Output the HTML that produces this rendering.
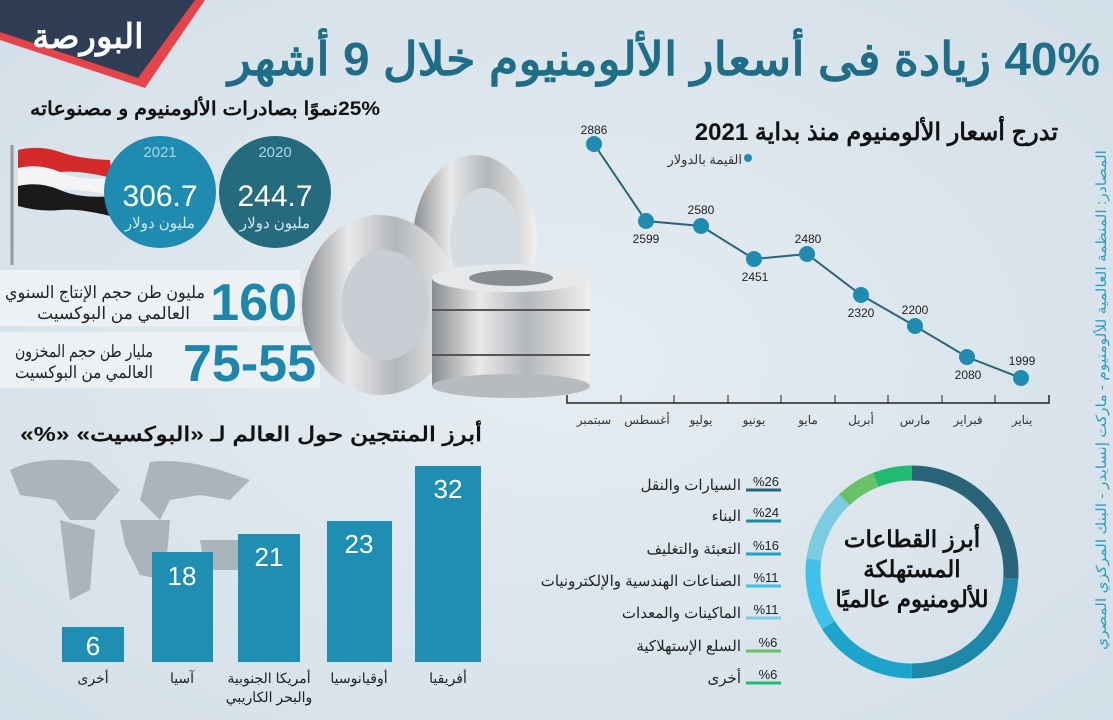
<!DOCTYPE html>
<html><head><meta charset="utf-8"><style>
body{margin:0;width:1113px;height:720px;overflow:hidden;background:#d9e4ec;font-family:"Liberation Sans","Noto Sans CJK SC",sans-serif;}
svg{display:block}
</style></head><body>
<svg width="1113" height="720" viewBox="0 0 1113 720" xmlns="http://www.w3.org/2000/svg" font-family="Liberation Sans, Noto Sans CJK SC, sans-serif">
<defs>
<radialGradient id="bg" cx="0.5" cy="0.5" r="0.7"><stop offset="0" stop-color="#e6edf2"/><stop offset="1" stop-color="#d3dfe8"/></radialGradient>
<linearGradient id="met" x1="0" x2="1"><stop offset="0" stop-color="#8a8d90"/><stop offset="0.3" stop-color="#e8e9ea"/><stop offset="0.6" stop-color="#b4b7ba"/><stop offset="1" stop-color="#f0f0f0"/></linearGradient>
</defs>
<rect width="1113" height="720" fill="url(#bg)"/>
<!-- logo banner -->
<polygon points="0,0 205,0 145,88 0,40" fill="#e5454a"/>
<polygon points="0,0 195,0 138,78 0,32" fill="#2f3e55"/>
<text x="88" y="48" font-size="34" font-weight="bold" fill="#fff" text-anchor="middle">البورصة</text>
<!-- title -->
<text x="1100" y="75" font-size="46" font-weight="bold" fill="#1f6d86" text-anchor="start" direction="rtl" textLength="872" lengthAdjust="spacingAndGlyphs">40% زيادة فى أسعار الألومنيوم خلال 9 أشهر</text>
<text x="380" y="115" font-size="19" font-weight="bold" fill="#111" text-anchor="start" direction="rtl" textLength="350" lengthAdjust="spacingAndGlyphs">25%نموًا بصادرات الألومنيوم و مصنوعاته</text>
<!-- flag -->
<line x1="12" y1="145" x2="12" y2="265" stroke="#999" stroke-width="3"/>
<path d="M18,150 Q40,145 60,152 T110,160 L112,178 Q80,170 60,172 T18,168Z" fill="#d42a2a"/>
<path d="M18,168 Q40,163 60,172 T112,178 L114,196 Q80,188 60,190 T18,186Z" fill="#f4f4f4"/>
<path d="M18,186 Q40,181 60,190 T114,196 L118,218 Q80,208 60,210 T18,206Z" fill="#1a1a1a"/>
<!-- circles -->
<circle cx="160" cy="192" r="56" fill="#1f8bb0"/>
<circle cx="275" cy="192" r="56" fill="#266a7e"/>
<text x="160" y="157" font-size="15" fill="#a9d6e6" text-anchor="middle">2021</text>
<text x="275" y="157" font-size="15" fill="#a9d6e6" text-anchor="middle">2020</text>
<text x="160" y="206" font-size="30" fill="#fff" text-anchor="middle">306.7</text>
<text x="275" y="206" font-size="30" fill="#fff" text-anchor="middle">244.7</text>
<text x="160" y="228" font-size="15" fill="#cfe8f1" text-anchor="middle">مليون دولار</text>
<text x="275" y="228" font-size="15" fill="#cfe8f1" text-anchor="middle">مليون دولار</text>
<!-- stat boxes -->
<rect x="0" y="270" width="300" height="56" fill="#edf1f4"/>
<rect x="0" y="332" width="320" height="56" fill="#edf1f4"/>
<text x="297" y="320" font-size="52" font-weight="bold" fill="#1f86ab" text-anchor="end">160</text>
<text x="205" y="298" font-size="17" fill="#222" text-anchor="start" direction="rtl" textLength="200" lengthAdjust="spacingAndGlyphs">مليون طن حجم الإنتاج السنوي</text>
<text x="190" y="319" font-size="17" fill="#222" text-anchor="start" direction="rtl">العالمي من البوكسيت</text>
<text x="316" y="381" font-size="52" font-weight="bold" fill="#1f86ab" text-anchor="end">75-55</text>
<text x="153" y="357" font-size="17" fill="#222" text-anchor="start" direction="rtl" textLength="138" lengthAdjust="spacingAndGlyphs">مليار طن حجم المخزون</text>
<text x="153" y="378" font-size="17" fill="#222" text-anchor="start" direction="rtl" textLength="138" lengthAdjust="spacingAndGlyphs">العالمي من البوكسيت</text>
<!-- coils -->
<ellipse cx="475" cy="240" rx="62" ry="85" fill="url(#met)"/>
<ellipse cx="485" cy="240" rx="35" ry="52" fill="#d5dde3"/>
<ellipse cx="380" cy="305" rx="78" ry="90" fill="url(#met)"/>
<ellipse cx="385" cy="305" rx="44" ry="55" fill="#c8ced3"/>
<rect x="432" y="278" width="158" height="108" fill="url(#met)"/>
<ellipse cx="511" cy="386" rx="79" ry="12" fill="#b8bbbe"/>
<ellipse cx="511" cy="278" rx="79" ry="14" fill="#e6e8ea"/>
<ellipse cx="511" cy="278" rx="42" ry="8" fill="#8a8e92"/>
<line x1="432" y1="310" x2="590" y2="310" stroke="#555" stroke-width="2"/>
<line x1="432" y1="355" x2="590" y2="355" stroke="#555" stroke-width="2"/>
<!-- line chart -->
<text x="1058" y="140" font-size="24" font-weight="bold" fill="#111" text-anchor="start" direction="rtl">تدرج أسعار الألومنيوم منذ بداية 2021</text>
<circle cx="748" cy="158" r="4" fill="#1f8bb0"/>
<text x="742" y="164" font-size="13" fill="#333" text-anchor="start" direction="rtl">القيمة بالدولار</text>
<polyline points="567,395 567,403 1049,403 1049,395" fill="none" stroke="#222" stroke-width="1.5"/>
<g stroke="#222" stroke-width="1">
<line x1="621" y1="395" x2="621" y2="403"/><line x1="674" y1="395" x2="674" y2="403"/><line x1="728" y1="395" x2="728" y2="403"/><line x1="781" y1="395" x2="781" y2="403"/><line x1="835" y1="395" x2="835" y2="403"/><line x1="888" y1="395" x2="888" y2="403"/><line x1="942" y1="395" x2="942" y2="403"/><line x1="995" y1="395" x2="995" y2="403"/>
</g>
<g font-size="12" fill="#333" text-anchor="middle">
<text x="594" y="424">سبتمبر</text><text x="647" y="424">أغسطس</text><text x="701" y="424">يوليو</text><text x="754" y="424">يونيو</text><text x="808" y="424">مايو</text><text x="861" y="424">أبريل</text><text x="915" y="424">مارس</text><text x="968" y="424">فبراير</text><text x="1022" y="424">يناير</text>
</g>
<polyline points="594,144 646,221 701,226 754,259 807,254 861,295 915,326 967,357 1021,378" fill="none" stroke="#2a6478" stroke-width="2"/>
<g fill="#1f8bb0"><circle cx="594" cy="144" r="8"/><circle cx="646" cy="221" r="8"/><circle cx="701" cy="226" r="8"/><circle cx="754" cy="259" r="8"/><circle cx="807" cy="254" r="8"/><circle cx="861" cy="295" r="8"/><circle cx="915" cy="326" r="8"/><circle cx="967" cy="357" r="8"/><circle cx="1021" cy="378" r="8"/></g>
<g font-size="12" fill="#222" text-anchor="middle">
<text x="594" y="134">2886</text><text x="646" y="243">2599</text><text x="701" y="214">2580</text><text x="755" y="281">2451</text><text x="808" y="243">2480</text><text x="861" y="317">2320</text><text x="915" y="314">2200</text><text x="968" y="379">2080</text><text x="1022" y="365">1999</text>
</g>
<!-- source vertical -->
<text transform="translate(1106,150) rotate(-90)" font-size="14" fill="#2d9cc0" direction="rtl" text-anchor="start" textLength="500" lengthAdjust="spacingAndGlyphs">المصادر:  المنظمة العالمية للألومنيوم - ماركت إنسايدر - البنك المركزي المصري</text>
<!-- bar chart -->
<text x="482" y="441" font-size="20" font-weight="bold" fill="#111" text-anchor="start" direction="rtl" textLength="462" lengthAdjust="spacingAndGlyphs">أبرز المنتجين حول العالم لـ «البوكسيت» «%»</text>
<path d="M10,470 Q40,455 90,462 L120,490 L95,520 L70,520 L55,500 L20,495Z M150,462 Q180,458 220,470 L250,480 L230,500 L200,495 L170,500 L160,520 L140,500Z M60,520 L95,530 L90,590 L70,600 L65,560Z M120,520 L170,520 L165,580 L140,575 L125,545Z M200,540 L245,540 L245,570 L205,570Z" fill="#a9b4bb"/>
<g fill="#1e8fb3">
<rect x="62" y="627" width="62" height="35"/><rect x="152" y="552" width="61" height="110"/><rect x="238" y="534" width="62" height="128"/><rect x="327" y="521" width="65" height="141"/><rect x="415" y="466" width="66" height="196"/>
</g>
<g font-size="26" fill="#fff" text-anchor="middle">
<text x="93" y="655">6</text><text x="182" y="585">18</text><text x="269" y="566">21</text><text x="359" y="553">23</text><text x="448" y="498">32</text>
</g>
<g font-size="14" fill="#222" text-anchor="middle">
<text x="93" y="683">أخرى</text><text x="182" y="683">آسيا</text><text x="269" y="683">أمريكا الجنوبية</text><text x="269" y="702">والبحر الكاريبي</text><text x="359" y="683">أوقيانوسيا</text><text x="448" y="683">أفريقيا</text>
</g>
<!-- donut -->
<g fill="none" stroke-width="15" transform="translate(912,572) rotate(-90)">
<circle r="99" stroke="#2a6478" stroke-dasharray="161.7 622" stroke-dashoffset="0"/>
<circle r="99" stroke="#1d88aa" stroke-dasharray="149.3 622" stroke-dashoffset="-161.7"/>
<circle r="99" stroke="#1ea3cb" stroke-dasharray="99.5 622" stroke-dashoffset="-311"/>
<circle r="99" stroke="#40c1ec" stroke-dasharray="68.4 622" stroke-dashoffset="-410.5"/>
<circle r="99" stroke="#7ccbe0" stroke-dasharray="68.4 622" stroke-dashoffset="-478.9"/>
<circle r="99" stroke="#69c16a" stroke-dasharray="37.3 622" stroke-dashoffset="-547.3"/>
<circle r="99" stroke="#1fbb72" stroke-dasharray="37.4 622" stroke-dashoffset="-584.6"/>
</g>
<g font-size="23" font-weight="bold" fill="#111" text-anchor="middle" direction="rtl">
<text x="912" y="547">أبرز القطاعات</text><text x="912" y="577">المستهلكة</text><text x="912" y="607">للألومنيوم عالميًا</text>
</g>
<g font-size="15" fill="#222" text-anchor="start" direction="rtl">
<text x="741" y="490">السيارات والنقل</text><text x="741" y="521">البناء</text><text x="741" y="554">التعبئة والتغليف</text><text x="741" y="586">الصناعات الهندسية والإلكترونيات</text><text x="741" y="618">الماكينات والمعدات</text><text x="741" y="651">السلع الإستهلاكية</text><text x="741" y="683">أخرى</text>
</g>
<g font-size="13" fill="#222" text-anchor="middle">
<text x="766" y="486">%26</text><text x="766" y="517">%24</text><text x="766" y="550">%16</text><text x="766" y="582">%11</text><text x="766" y="614">%11</text><text x="768" y="647">%6</text><text x="768" y="679">%6</text>
</g>
<g stroke-width="3">
<line x1="746" y1="490" x2="781" y2="490" stroke="#2a6478"/><line x1="746" y1="521" x2="781" y2="521" stroke="#1d88aa"/><line x1="746" y1="554" x2="781" y2="554" stroke="#1ea3cb"/><line x1="746" y1="586" x2="781" y2="586" stroke="#40c1ec"/><line x1="746" y1="618" x2="781" y2="618" stroke="#7ccbe0"/><line x1="746" y1="651" x2="781" y2="651" stroke="#69c16a"/><line x1="746" y1="683" x2="781" y2="683" stroke="#1fbb72"/>
</g>
</svg>
</body></html>
